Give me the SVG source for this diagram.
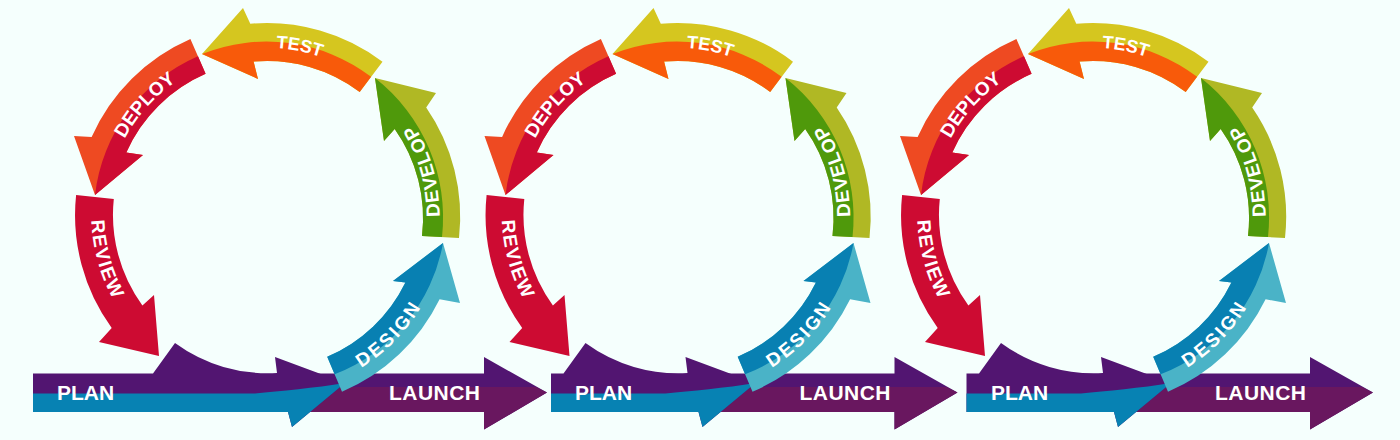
<svg xmlns="http://www.w3.org/2000/svg" xmlns:xlink="http://www.w3.org/1999/xlink" width="1400" height="440" viewBox="0 0 1400 440">
<style>
.lbl{font-family:"Liberation Sans",Arial,sans-serif;font-weight:bold;fill:#ffffff;}
.ring{font-size:19px;}
.small{font-size:18px;}
.bar{font-size:21px;}
.yellow{fill:#D5C61F}.orange{fill:#F85A0A}.redorange{fill:#EE4A22}.crimson{fill:#CD0B32}
.lime{fill:#B0B824}.green{fill:#4F990B}.lightblue{fill:#4AB3C7}.darkblue{fill:#0880B2}
.purple{fill:#521571}.blue{fill:#0782B3}.launchlow{fill:#69175F}
</style>
<defs>
<path id="test-full" d="M382.5,61.7 A192,192 0 0 0 250.3,23.7 L243,8 L202,54 L258,79 L253.6,61.6 A154,154 0 0 1 359.7,92 Z"/>
<path id="test-inner" d="M202,54 L258,79 L253.6,61.6 A154,154 0 0 1 359.7,92 L371.1,76.8 A173,173 0 0 0 202,54 Z"/>
<path id="deploy-full" d="M190.4,38.9 A192,192 0 0 0 91.6,136.9 L74,136 L95,195 L143,155 L126.3,152.4 A154,154 0 0 1 205.6,73.8 Z"/>
<path id="deploy-inner" d="M198,56.3 A173,173 0 0 0 95,195 L143,155 L126.3,152.4 A154,154 0 0 1 205.6,73.8 Z"/>
<path id="review-full" d="M76.1,194.9 A192,192 0 0 0 111.7,327.9 L99,342 L159,356 L154,295 L142.4,305.5 A154,154 0 0 1 113.8,198.9 Z"/>
<path id="develop-full" d="M459,238 A192,192 0 0 0 426.2,107.6 L436,93 L375,78 L384,141 L394.7,128.9 A154,154 0 0 1 422,236 Z"/>
<path id="develop-inner" d="M375,78 L384,141 L394.7,128.9 A154,154 0 0 1 422,236 L442,237 A177,177 0 0 0 375,78 Z"/>
<path id="design-full" d="M342,391.7 A192,192 0 0 0 439.6,299.2 L460,303 L443,243 L393,281 L405.4,282.5 A154,154 0 0 1 327.2,356.8 Z"/>
<path id="design-inner" d="M443,243 L393,281 L405.4,282.5 A154,154 0 0 1 327.2,356.8 L334.6,374.2 A173,173 0 0 0 443,243 Z"/>
<path id="launch-full" d="M300,373.5 L484,373.5 L484,357 L547,392.5 L484,429.5 L484,412 L300,412 Z"/>
<path id="launch-low" d="M300,387 L536,387 L547,392.5 L484,429.5 L484,412 L300,412 Z"/>
<path id="arc-test" d="M186,68.9 A167,167 0 0 1 396.8,109.9" fill="none"/>
<path id="arc-deploy" d="M105.6,209.4 A161.5,161.5 0 0 1 244.5,55.1" fill="none"/>
<path id="arc-review" d="M107.4,141.9 A175.5,175.5 0 0 0 167.4,359.5" fill="none"/>
<path id="arc-develop" d="M424.2,286 A172.5,172.5 0 0 0 364.2,72.5" fill="none"/>
<path id="arc-design" d="M284.8,393.6 A179.5,179.5 0 0 0 446,228.5" fill="none"/>
</defs>
<rect width="1400" height="440" fill="#F5FFFD"/>

<g id="cycle-1">
  <g id="launch-1"><use href="#launch-full" class="purple"/><use href="#launch-low" class="launchlow"/>
    <text class="lbl bar" x="389" y="400" textLength="91" lengthAdjust="spacing">LAUNCH</text></g>
  <g id="plan-1">
    <path class="purple" d="M33,373.5 L153,373.5 L175,343 A157,157 0 0 0 277,373 L275,357 L345,383 L292,427 L288,412 L33,412 Z"/>
    <path class="blue" d="M33,393.5 L255,393.5 C280,391 315,388 345,383 L292,427 L288,412 L33,412 Z"/>
    <text class="lbl bar" x="57" y="400">PLAN</text></g>
  <g id="review-1"><use href="#review-full" class="crimson"/>
    <text class="lbl ring" letter-spacing="1.5"><textPath href="#arc-review" startOffset="50%" text-anchor="middle">REVIEW</textPath></text></g>
  <g id="deploy-1"><use href="#deploy-full" class="redorange"/><use href="#deploy-inner" class="crimson"/>
    <text class="lbl ring" letter-spacing="0"><textPath href="#arc-deploy" startOffset="50%" text-anchor="middle">DEPLOY</textPath></text></g>
  <g id="test-1"><use href="#test-full" class="yellow"/><use href="#test-inner" class="orange"/>
    <text class="lbl small" letter-spacing="0"><textPath href="#arc-test" startOffset="50%" text-anchor="middle">TEST</textPath></text></g>
  <g id="develop-1"><use href="#develop-full" class="lime"/><use href="#develop-inner" class="green"/>
    <text class="lbl ring" letter-spacing="1"><textPath href="#arc-develop" startOffset="50%" text-anchor="middle">DEVELOP</textPath></text></g>
  <g id="design-1"><use href="#design-full" class="lightblue"/><use href="#design-inner" class="darkblue"/>
    <text class="lbl ring" letter-spacing="2.5"><textPath href="#arc-design" startOffset="50%" text-anchor="middle">DESIGN</textPath></text></g>
</g>

<g id="cycle-2" transform="translate(410.5,0)">
  <g id="launch-2"><use href="#launch-full" class="purple"/><use href="#launch-low" class="launchlow"/>
    <text class="lbl bar" x="389" y="400" textLength="91" lengthAdjust="spacing">LAUNCH</text></g>
  <g id="plan-2">
    <path class="purple" d="M140.5,373.5 L153,373.5 L175,343 A157,157 0 0 0 277,373 L275,357 L345,383 L292,427 L288,412 L140.5,412 Z"/>
    <path class="blue" d="M140.5,393.5 L255,393.5 C280,391 315,388 345,383 L292,427 L288,412 L140.5,412 Z"/>
    <text class="lbl bar" x="164.5" y="400">PLAN</text></g>
  <g id="review-2"><use href="#review-full" class="crimson"/>
    <text class="lbl ring" letter-spacing="1.5"><textPath href="#arc-review" startOffset="50%" text-anchor="middle">REVIEW</textPath></text></g>
  <g id="deploy-2"><use href="#deploy-full" class="redorange"/><use href="#deploy-inner" class="crimson"/>
    <text class="lbl ring" letter-spacing="0"><textPath href="#arc-deploy" startOffset="50%" text-anchor="middle">DEPLOY</textPath></text></g>
  <g id="test-2"><use href="#test-full" class="yellow"/><use href="#test-inner" class="orange"/>
    <text class="lbl small" letter-spacing="0"><textPath href="#arc-test" startOffset="50%" text-anchor="middle">TEST</textPath></text></g>
  <g id="develop-2"><use href="#develop-full" class="lime"/><use href="#develop-inner" class="green"/>
    <text class="lbl ring" letter-spacing="1"><textPath href="#arc-develop" startOffset="50%" text-anchor="middle">DEVELOP</textPath></text></g>
  <g id="design-2"><use href="#design-full" class="lightblue"/><use href="#design-inner" class="darkblue"/>
    <text class="lbl ring" letter-spacing="2.5"><textPath href="#arc-design" startOffset="50%" text-anchor="middle">DESIGN</textPath></text></g>
</g>

<g id="cycle-3" transform="translate(826,0)">
  <g id="launch-3"><use href="#launch-full" class="purple"/><use href="#launch-low" class="launchlow"/>
    <text class="lbl bar" x="389" y="400" textLength="91" lengthAdjust="spacing">LAUNCH</text></g>
  <g id="plan-3">
    <path class="purple" d="M140.5,373.5 L153,373.5 L175,343 A157,157 0 0 0 277,373 L275,357 L345,383 L292,427 L288,412 L140.5,412 Z"/>
    <path class="blue" d="M140.5,393.5 L255,393.5 C280,391 315,388 345,383 L292,427 L288,412 L140.5,412 Z"/>
    <text class="lbl bar" x="165" y="400">PLAN</text></g>
  <g id="review-3"><use href="#review-full" class="crimson"/>
    <text class="lbl ring" letter-spacing="1.5"><textPath href="#arc-review" startOffset="50%" text-anchor="middle">REVIEW</textPath></text></g>
  <g id="deploy-3"><use href="#deploy-full" class="redorange"/><use href="#deploy-inner" class="crimson"/>
    <text class="lbl ring" letter-spacing="0"><textPath href="#arc-deploy" startOffset="50%" text-anchor="middle">DEPLOY</textPath></text></g>
  <g id="test-3"><use href="#test-full" class="yellow"/><use href="#test-inner" class="orange"/>
    <text class="lbl small" letter-spacing="0"><textPath href="#arc-test" startOffset="50%" text-anchor="middle">TEST</textPath></text></g>
  <g id="develop-3"><use href="#develop-full" class="lime"/><use href="#develop-inner" class="green"/>
    <text class="lbl ring" letter-spacing="1"><textPath href="#arc-develop" startOffset="50%" text-anchor="middle">DEVELOP</textPath></text></g>
  <g id="design-3"><use href="#design-full" class="lightblue"/><use href="#design-inner" class="darkblue"/>
    <text class="lbl ring" letter-spacing="2.5"><textPath href="#arc-design" startOffset="50%" text-anchor="middle">DESIGN</textPath></text></g>
</g>
</svg>
